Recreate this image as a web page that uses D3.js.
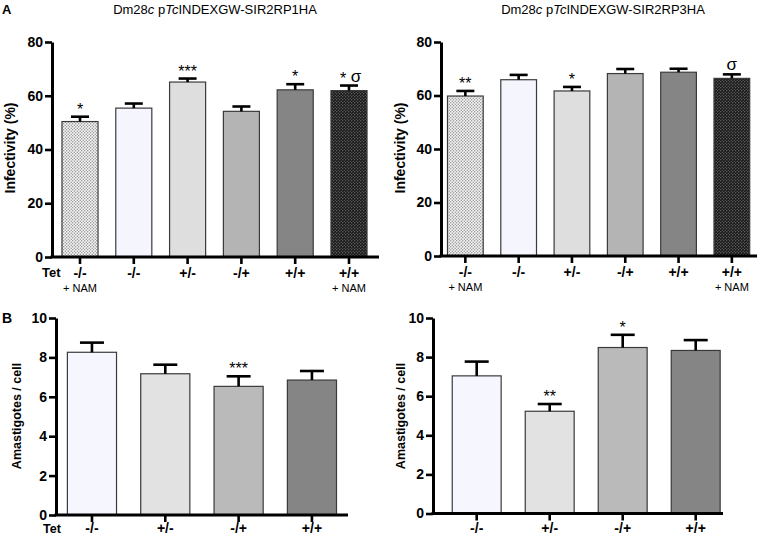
<!DOCTYPE html>
<html><head><meta charset="utf-8">
<script src="https://cdn.jsdelivr.net/npm/d3@7"></script>
<style>
body{margin:0;background:#fff;}
text{font-family:"Liberation Sans",Arial,Helvetica,sans-serif;}
</style></head>
<body>
<svg id="chart" width="759" height="536"></svg>
<script>
// ---- data ----
const infectCats = ["-/-","-/-","+/-","-/+","+/+","+/+"];
const infectSub = ["+ NAM","","","","","+ NAM"];
const infectTicks = [0,20,40,60,80];
const infectRP1 = [50.4,55.4,65.1,54.2,62.2,61.9];
const infectRP1Err = [1.8,1.7,1.3,1.8,2.1,1.9];
const infectRP1Sig = ["*","","***","","*","*"];
const infectRP1Sigma = [false,false,false,false,false,true];
const infectRP3 = [59.8,65.9,61.7,68.2,68.7,66.4];
const infectRP3Err = [1.9,1.8,1.5,1.7,1.3,1.5];
const infectRP3Sig = ["**","","*","","",""];
const infectRP3Sigma = [false,false,false,false,false,true];
const amaCats = ["-/-","+/-","-/+","+/+"];
const amaTicks = [0,2,4,6,8,10];
const amaRP1 = [8.26,7.17,6.53,6.85];
const amaRP1Err = [0.49,0.46,0.51,0.46];
const amaRP1Sig = ["","","***",""];
const amaRP3 = [7.04,5.23,8.49,8.34];
const amaRP3Err = [0.73,0.37,0.65,0.53];
const amaRP3Sig = ["","**","*",""];

const infectFills = ["url(#dotsLight)","#f5f5fd","#dedede","#b4b4b4","#858585","url(#dotsDark)"];
const amaFills = ["#f6f6fe","#e2e2e2","#bababa","#858585"];

const svg = d3.select("#chart");
const defs = svg.append("defs");
const pL = defs.append("pattern").attr("id","dotsLight").attr("patternUnits","userSpaceOnUse").attr("width",3).attr("height",3);
pL.append("rect").attr("width",3).attr("height",3).attr("fill","#f6f6f6");
pL.append("circle").attr("cx",0.75).attr("cy",0.75).attr("r",0.65).attr("fill","#808080");
pL.append("circle").attr("cx",2.25).attr("cy",2.25).attr("r",0.65).attr("fill","#808080");
const pD = defs.append("pattern").attr("id","dotsDark").attr("patternUnits","userSpaceOnUse").attr("width",3).attr("height",3);
pD.append("rect").attr("width",3).attr("height",3).attr("fill","#1a1a1a");
pD.append("circle").attr("cx",0.75).attr("cy",0.75).attr("r",0.6).attr("fill","#9a9a9a");
pD.append("circle").attr("cx",2.25).attr("cy",2.25).attr("r",0.6).attr("fill","#777");

function panel(o){
  const g = svg.append("g");
  const y = d3.scaleLinear().domain([0, o.max]).range([o.y0, o.y1]);
  const x = d3.scaleBand().domain(d3.range(o.values.length)).range([o.b0, o.b1]).paddingInner(0.33).paddingOuter(0.165);
  // bars
  g.selectAll("rect.bar").data(o.values).join("rect")
    .attr("x",(d,i)=>x(i)).attr("width",x.bandwidth())
    .attr("y",d=>y(d)).attr("height",d=>y(0)-y(d))
    .attr("fill",(d,i)=>o.fills[i]).attr("stroke","#3a3a3a").attr("stroke-width",1.2);
  // error bars
  const eg = g.append("g").attr("stroke","#000").attr("stroke-width",2.6);
  o.values.forEach((v,i)=>{
    const cx = x(i)+x.bandwidth()/2;
    eg.append("line").attr("x1",cx).attr("x2",cx).attr("y1",y(v)).attr("y2",y(v+o.errs[i]));
    eg.append("line").attr("x1",cx-o.cap/2).attr("x2",cx+o.cap/2).attr("y1",y(v+o.errs[i])).attr("y2",y(v+o.errs[i]));
    const top = y(v+o.errs[i]);
    const hasSigma = o.sigma && o.sigma[i];
    if(o.sigs[i]){
      g.append("text").attr("x", hasSigma ? cx-6 : cx).attr("y", top-2)
        .attr("text-anchor","middle").attr("font-size",16).text(o.sigs[i]);
    }
    if(hasSigma){
      g.append("text").attr("x", o.sigs[i] ? cx+7 : cx).attr("y", top-4)
        .attr("text-anchor","middle").attr("font-size",17).text("σ");
    }
  });
  // y axis
  const ya = d3.axisLeft(y).tickValues(o.ticks).tickSize(7).tickSizeOuter(0).tickPadding(2);
  const yg = g.append("g").attr("transform",`translate(${o.ax},0)`).call(ya);
  yg.select(".domain").attr("stroke","#000").attr("stroke-width",3);
  yg.selectAll(".tick line").attr("stroke","#000").attr("stroke-width",2.6);
  yg.selectAll(".tick text").attr("font-size",14).attr("font-weight","bold").attr("fill","#000")
    .attr("font-family",'"Liberation Sans",Arial,sans-serif');
  // x axis line
  g.append("line").attr("x1",o.ax-1.5).attr("x2",o.xEnd).attr("y1",y(0)).attr("y2",y(0))
    .attr("stroke","#000").attr("stroke-width",3);
  o.cats.forEach((c,i)=>{
    const cx = x(i)+x.bandwidth()/2;
    g.append("line").attr("x1",cx).attr("x2",cx).attr("y1",y(0)).attr("y2",y(0)+7)
      .attr("stroke","#000").attr("stroke-width",2.6);
    g.append("text").attr("x",cx).attr("y",o.labY).attr("text-anchor","middle")
      .attr("font-size",14).attr("font-weight","bold").text(c);
    if(o.subs && o.subs[i]){
      g.append("text").attr("x",cx).attr("y",o.labY+14).attr("text-anchor","middle")
        .attr("font-size",11).text(o.subs[i]);
    }
  });
  if(o.tet){
    g.append("text").attr("x",o.tet).attr("y",o.tetY).attr("font-size",o.tetS).attr("font-weight","bold").text("Tet");
  }
  g.append("text").attr("transform",`translate(${o.ylx},${o.yly}) rotate(-90)`)
    .attr("text-anchor","middle").attr("dominant-baseline","central")
    .attr("font-size",o.yls).attr("font-weight","bold").text(o.ylabel);
}

panel({max:80, ticks:infectTicks, y0:257, y1:42, ax:52, xEnd:379, b0:53.1, b1:375.9,
  values:infectRP1, errs:infectRP1Err, sigs:infectRP1Sig, sigma:infectRP1Sigma, fills:infectFills,
  cats:infectCats, subs:infectSub, cap:18, labY:278, tet:42, tetY:277, tetS:13,
  ylabel:"Infectivity (%)", ylx:10, yly:148, yls:14});
panel({max:80, ticks:infectTicks, y0:256, y1:42, ax:441, xEnd:757, b0:438.7, b1:758.5,
  values:infectRP3, errs:infectRP3Err, sigs:infectRP3Sig, sigma:infectRP3Sigma, fills:infectFills,
  cats:infectCats, subs:infectSub, cap:18, labY:277, tet:null,
  ylabel:"Infectivity (%)", ylx:400, yly:148, yls:14});
panel({max:10, ticks:amaTicks, y0:515, y1:318, ax:56, xEnd:348, b0:55.3, b1:348.6,
  values:amaRP1, errs:amaRP1Err, sigs:amaRP1Sig, fills:amaFills,
  cats:amaCats, cap:24, labY:533, tet:43, tetY:533, tetS:12.5,
  ylabel:"Amastigotes / cell", ylx:17, yly:416, yls:12.5});
panel({max:10, ticks:amaTicks, y0:513.5, y1:318, ax:433, xEnd:723, b0:440.2, b1:732.2,
  values:amaRP3, errs:amaRP3Err, sigs:amaRP3Sig, fills:amaFills,
  cats:amaCats, cap:24, labY:533, tet:null,
  ylabel:"Amastigotes / cell", ylx:401, yly:416, yls:12.5});

// panel letters and titles
svg.append("text").attr("x",2).attr("y",14).attr("font-size",13).attr("font-weight","bold").text("A");
svg.append("text").attr("x",2).attr("y",323).attr("font-size",14).attr("font-weight","bold").text("B");
function title(cx, suffix){
  const t = svg.append("text").attr("x",cx).attr("y",14).attr("text-anchor","middle").attr("font-size",13);
  t.append("tspan").text("Dm28");
  t.append("tspan").attr("font-style","italic").text("c");
  t.append("tspan").text(" p");
  t.append("tspan").attr("font-style","italic").text("Tc");
  t.append("tspan").text("INDEXGW-" + suffix);
}
title(215, "SIR2RP1HA");
title(603, "SIR2RP3HA");
</script>
</body></html>
